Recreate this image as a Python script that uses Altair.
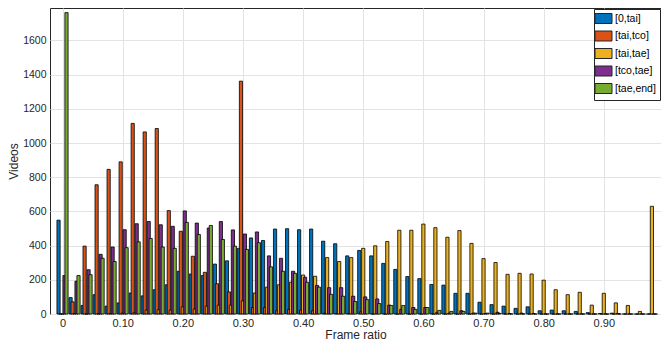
import altair as alt
import pandas as pd

bins = [round(0.02 * i, 2) for i in range(50)]
series = ["[0,tai]", "[tai,tco]", "[tai,tae]", "[tco,tae]", "[tae,end]"]
colors = ["#0072BD", "#D95319", "#EDB120", "#7E2F8E", "#77AC30"]

v_0_tai = [549, 96, 50, 113, 46, 65, 123, 106, 142, 171, 250, 234, 225, 292, 311, 384, 445, 430, 497, 499,
           493, 497, 426, 411, 340, 372, 340, 296, 261, 219, 207, 173, 169, 121, 121, 69, 55, 46, 33, 42,
           19, 23, 19, 15, 8, 3, 5, 0, 0, 0]
v_tai_tco = [0, 71, 397, 756, 846, 890, 1115, 1065, 1085, 605, 484, 338, 244, 177, 129, 1362, 38, 38, 19, 27,
             23, 19, 5, 3, 3, 13, 0, 0, 0, 0, 0, 0, 0, 0, 0, 0, 0, 0, 0, 0,
             0, 0, 0, 0, 0, 0, 0, 0, 0, 0]
v_tai_tae = [0, 3, 0, 0, 3, 5, 8, 23, 25, 23, 42, 29, 46, 52, 52, 77, 123, 157, 171, 186,
             228, 221, 330, 307, 330, 384, 399, 424, 490, 490, 526, 505, 449, 488, 413, 324, 301, 232, 238, 234,
             198, 142, 113, 127, 52, 121, 65, 50, 15, 630]
v_tco_tae = [225, 192, 259, 349, 392, 493, 528, 541, 522, 513, 603, 532, 503, 541, 492, 468, 480, 340, 326, 250,
             215, 167, 154, 154, 104, 100, 88, 52, 27, 38, 38, 10, 5, 19, 5, 3, 10, 3, 5, 3,
             0, 0, 0, 0, 0, 0, 3, 0, 0, 0]
v_tae_end = [1763, 225, 230, 326, 307, 388, 422, 442, 392, 384, 536, 465, 518, 436, 397, 378, 417, 276, 250, 238,
             186, 157, 115, 104, 73, 84, 61, 50, 50, 27, 38, 21, 15, 15, 5, 5, 3, 0, 0, 0,
             0, 0, 0, 0, 0, 0, 0, 0, 0, 0]

x_ticks = [0, 0.1, 0.2, 0.3, 0.4, 0.5, 0.6, 0.7, 0.8, 0.9]
y_ticks = [0, 200, 400, 600, 800, 1000, 1200, 1400, 1600]

all_values = [v_0_tai, v_tai_tco, v_tai_tae, v_tco_tae, v_tae_end]
step = 0.0033  # offset between series inside a group (data units)
rows = []
for si, (name, vals) in enumerate(zip(series, all_values)):
    for b, v in zip(bins, vals):
        rows.append({"bin": b, "pos": b + (si - 2) * step, "series": name, "order": si, "count": v})
df = pd.DataFrame(rows)

font = "Liberation Sans"
txt = "#262626"

chart = alt.Chart(df).mark_bar(width=3.2, stroke="black", strokeWidth=0.8, opacity=1).encode(
    x=alt.X("pos:Q",
            scale=alt.Scale(domain=[-0.0125, 0.9868], nice=False, zero=False),
            axis=alt.Axis(values=x_ticks, title="Frame ratio",
                          labelExpr="datum.value == 0 ? '0' : format(datum.value, '.2f')",
                          labelPadding=3, titlePadding=1, labelFlush=False)),
    y=alt.Y("count:Q",
            scale=alt.Scale(domain=[0, 1790], nice=False),
            axis=alt.Axis(values=y_ticks, title="Videos", format="d", labelPadding=4, titlePadding=2,
                          labelFontSize=10.5)),
    color=alt.Color("series:N", sort=series,
                    scale=alt.Scale(domain=series, range=colors),
                    legend=alt.Legend(orient="top-right", offset=1, title=None,
                                      fillColor="white", strokeColor="#262626",
                                      padding=4, symbolType="M-1.7,-1H1.7V1H-1.7Z", symbolSize=100,
                                      symbolStrokeColor="#262626", symbolStrokeWidth=1, symbolOpacity=1,
                                      labelFontSize=10.5, labelFont=font, labelColor="black",
                                      rowPadding=2.5, labelOffset=6)),
    order=alt.Order("order:Q"),
).properties(
    width=611, height=306,
    autosize=alt.AutoSizeParams(type="none"),
    padding={"left": 42, "top": 0, "right": 0, "bottom": 27},
).configure_view(
    stroke=txt, strokeWidth=1
).configure_axis(
    labelFont=font, titleFont=font, labelFontSize=11, titleFontSize=12,
    labelColor=txt, titleColor=txt, titleFontWeight="normal",
    grid=True, gridColor="#e3e3e3", gridWidth=1,
    domain=False, ticks=False,
)

chart.save("out.html", embed_options={"renderer": "svg", "actions": False})
